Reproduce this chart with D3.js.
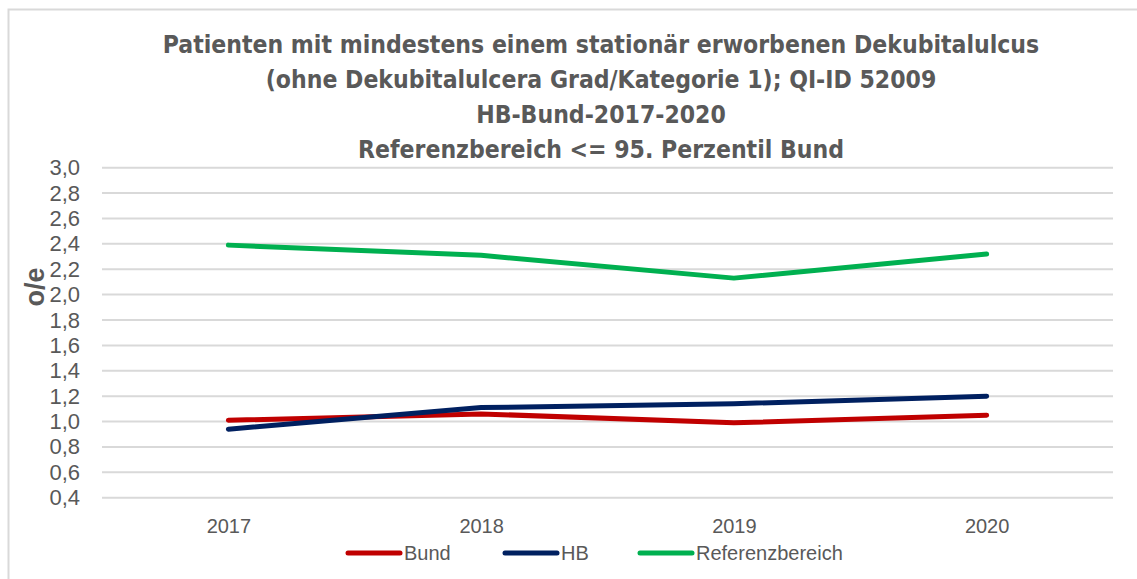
<!DOCTYPE html>
<html>
<head>
<meta charset="utf-8">
<script src="https://cdn.jsdelivr.net/npm/d3@7"></script>
<style>
  html, body { margin: 0; padding: 0; background: #fff; }
  svg { display: block; }
</style>
</head>
<body>
<svg id="chart" width="1137" height="579"></svg>
<script>
// ---- data ----
const years = ["2017", "2018", "2019", "2020"];
const bund = [1.01, 1.06, 0.99, 1.05];
const hb = [0.94, 1.11, 1.14, 1.20];
const referenz = [2.39, 2.31, 2.13, 2.32];
const seriesNames = ["Bund", "HB", "Referenzbereich"];
const yTicks = [0.4, 0.6, 0.8, 1.0, 1.2, 1.4, 1.6, 1.8, 2.0, 2.2, 2.4, 2.6, 2.8, 3.0];
const titleLines = [
  "Patienten mit mindestens einem stationär erworbenen Dekubitalulcus",
  "(ohne Dekubitalulcera Grad/Kategorie 1); QI-ID 52009",
  "HB-Bund-2017-2020",
  "Referenzbereich <= 95. Perzentil Bund"
];
const yTitle = "o/e";

// ---- layout ----
const colors = { "Bund": "#c00000", "HB": "#002060", "Referenzbereich": "#00b050" };
const series = [
  { name: "Bund", values: bund },
  { name: "HB", values: hb },
  { name: "Referenzbereich", values: referenz }
];
const svg = d3.select("#chart");
const plot = { left: 102, right: 1113, top: 167.7, bottom: 497.7 };
const textColor = "#595959";
const tickFont = "'Liberation Sans', Arial, sans-serif";

// border (top + left only)
svg.append("path")
  .attr("d", "M8.5,579 L8.5,9.5 L1137,9.5")
  .attr("fill", "none").attr("stroke", "#d9d9d9").attr("stroke-width", 2);

const x = d3.scalePoint().domain(years).range([plot.left, plot.right]).padding(0.5);
const y = d3.scaleLinear().domain([0.4, 3.0]).range([plot.bottom, plot.top]);

// gridlines
svg.append("g").selectAll("line").data(yTicks).join("line")
  .attr("x1", plot.left).attr("x2", plot.right)
  .attr("y1", d => y(d)).attr("y2", d => y(d))
  .attr("stroke", "#d9d9d9").attr("stroke-width", 2);

// y axis labels
const yAxis = d3.axisLeft(y).tickValues(yTicks)
  .tickFormat(d => d3.format(".1f")(d).replace(".", ","))
  .tickSize(0).tickPadding(0);
const gy = svg.append("g").attr("transform", `translate(80,0)`).call(yAxis);
gy.select(".domain").remove();
gy.selectAll("text").attr("fill", textColor)
  .style("font-family", tickFont).style("font-size", "22px");

// x axis labels
const xAxis = d3.axisBottom(x).tickSize(0).tickPadding(0);
const gx = svg.append("g").attr("transform", `translate(0,519)`).call(xAxis);
gx.select(".domain").remove();
gx.selectAll("text").attr("fill", textColor)
  .style("font-family", tickFont).style("font-size", "20px");

// lines
const line = d3.line().x((d, i) => x(years[i])).y(d => y(d));
svg.append("g").selectAll("path").data(series).join("path")
  .attr("d", d => line(d.values))
  .attr("fill", "none")
  .attr("stroke", d => colors[d.name])
  .attr("stroke-width", 5)
  .attr("stroke-linejoin", "round")
  .attr("stroke-linecap", "round");

// title
const titleFont = "'Liberation Sans Narrow', 'DejaVu Sans Condensed', Roboto, sans-serif";
const tg = svg.append("g").attr("fill", textColor)
  .style("font-family", titleFont).style("font-weight", "bold");
const tTexts = tg.selectAll("text").data(titleLines).join("text")
  .attr("x", 601).attr("y", (d, i) => 53 + i * 35)
  .attr("text-anchor", "middle")
  .style("font-size", "26px")
  .text(d => d);
// fit first line to reference width
const w0 = tTexts.node().getComputedTextLength();
const fs = Math.min(30, 26 * 877 / w0);
tTexts.style("font-size", fs + "px");

// y axis title
svg.append("text")
  .attr("transform", "translate(44,287) rotate(-90)")
  .attr("text-anchor", "middle")
  .attr("fill", textColor)
  .style("font-family", tickFont).style("font-weight", "bold").style("font-size", "27px")
  .text(yTitle);

// legend
const legendX = [348, 505, 640];
const lg = svg.append("g").selectAll("g").data(seriesNames).join("g")
  .attr("transform", (d, i) => `translate(${legendX[i]},553)`);
lg.append("line").attr("x1", 0).attr("x2", 52).attr("y1", 0).attr("y2", 0)
  .attr("stroke", d => colors[d]).attr("stroke-width", 5).attr("stroke-linecap", "round");
lg.append("text").attr("x", 56).attr("y", 7)
  .attr("fill", textColor)
  .style("font-family", tickFont).style("font-size", "20px")
  .text(d => d);
</script>
</body>
</html>
